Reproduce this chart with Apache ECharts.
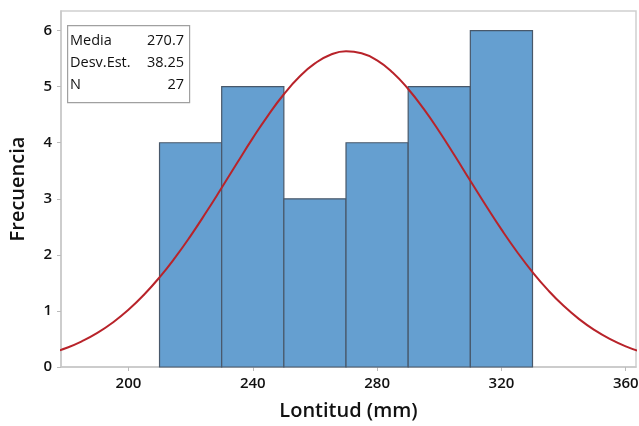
<!DOCTYPE html>
<html>
<head>
<meta charset="utf-8">
<script src="https://cdn.jsdelivr.net/npm/echarts@6/dist/echarts.min.js"></script>
<style>
  html, body { margin: 0; padding: 0; background: #fff; }
  #chart { width: 639px; height: 426px; }
</style>
</head>
<body>
<div id="chart"></div>
<script>
// histograma: limites de clase y frecuencias
var binStart = [210, 230, 250, 270, 290, 310];
var binEnd = [230, 250, 270, 290, 310, 330];
var frecuencias = [4, 5, 3, 4, 5, 6];

// curva normal ajustada
var curvaX = [175, 180, 185, 190, 195, 200, 205, 210, 215, 220, 225, 230, 235, 240, 245, 250, 255, 260, 265, 270,
  275, 280, 285, 290, 295, 300, 305, 310, 315, 320, 325, 330, 335, 340, 345, 350, 355, 360, 365];
var curvaY = [0.246, 0.339, 0.458, 0.608, 0.795, 1.021, 1.289, 1.599, 1.951, 2.340, 2.759, 3.197, 3.643, 4.082, 4.494, 4.865, 5.177, 5.416, 5.570, 5.632,
  5.596, 5.468, 5.252, 4.959, 4.603, 4.200, 3.767, 3.322, 2.880, 2.454, 2.056, 1.693, 1.371, 1.091, 0.854, 0.657, 0.497, 0.369, 0.270];

// ticks
var xTicks = [200, 240, 280, 320, 360];
var yTicks = [0, 1, 2, 3, 4, 5, 6];

// cuadro de estadisticas
var statNames = ['Media', 'Desv.Est.', 'N'];
var statValues = ['270.7', '38.25', '27'];

var chart = echarts.init(document.getElementById('chart'));

var histData = binStart.map(function (s, i) {
  return [s, binEnd[i], frecuencias[i]];
});
var curveData = curvaX.map(function (x, i) {
  return [x, curvaY[i]];
});

var font = '"Open Sans", "Noto Sans", sans-serif';

var statTexts = [];
statNames.forEach(function (n, i) {
  statTexts.push({
    type: 'text', left: 70, top: 33 + i * 22,
    style: { text: n, font: '14.5px ' + font, fill: '#111' }
  });
  statTexts.push({
    type: 'text', right: 639 - 184, top: 33 + i * 22,
    style: { text: statValues[i], font: '14.5px ' + font, fill: '#111', textAlign: 'right' }
  });
});

var option = {
  animation: false,
  grid: {
    left: 61, top: 11, width: 575, height: 356,
    outerBoundsMode: 'none', containLabel: false,
    show: true, borderColor: '#cfcfcf', borderWidth: 1.5, backgroundColor: '#fff'
  },
  xAxis: {
    type: 'value', min: 178.3, max: 363.3,
    name: 'Lontitud (mm)', nameLocation: 'middle', nameGap: 34,
    nameTextStyle: { fontFamily: font, fontSize: 20, color: '#111', fontWeight: 600 },
    axisLine: { show: true, lineStyle: { color: '#c8c8c8', width: 1.5 } },
    axisTick: { show: true, length: 4, customValues: xTicks, lineStyle: { color: '#bbb' } },
    axisLabel: { customValues: xTicks, fontFamily: font, fontSize: 15, color: '#111', fontWeight: 600, margin: 9 },
    splitLine: { show: false }
  },
  yAxis: {
    type: 'value', min: 0, max: 6.35,
    name: 'Frecuencia', nameLocation: 'middle', nameGap: 33,
    nameTextStyle: { fontFamily: font, fontSize: 20, color: '#111', fontWeight: 600 },
    axisLine: { show: true, lineStyle: { color: '#c8c8c8', width: 1.5 } },
    axisTick: { show: true, length: 4, customValues: yTicks, lineStyle: { color: '#bbb' } },
    axisLabel: { customValues: yTicks, fontFamily: font, fontSize: 15, color: '#111', fontWeight: 600, margin: 9 },
    splitLine: { show: false }
  },
  series: [
    {
      type: 'custom',
      data: histData,
      encode: { x: [0, 1], y: 2 },
      renderItem: function (params, api) {
        var p0 = api.coord([api.value(0), api.value(2)]);
        var p1 = api.coord([api.value(1), 0]);
        return {
          type: 'rect',
          shape: { x: p0[0], y: p0[1], width: p1[0] - p0[0], height: p1[1] - p0[1] },
          style: { fill: '#659fd0', stroke: '#48586a', lineWidth: 1.2 }
        };
      },
      z: 2
    },
    {
      type: 'line',
      data: curveData,
      smooth: true,
      showSymbol: false,
      clip: true,
      lineStyle: { color: '#b8232a', width: 2 },
      z: 3
    }
  ],
  graphic: [
    {
      type: 'rect', left: 67, top: 25, z: 10,
      shape: { width: 122, height: 77 },
      style: { fill: '#fff', stroke: '#a0a0a0', lineWidth: 1.2 }
    }
  ].concat(statTexts.map(function (t) { t.z = 11; return t; }))
};

chart.setOption(option);
</script>
</body>
</html>
